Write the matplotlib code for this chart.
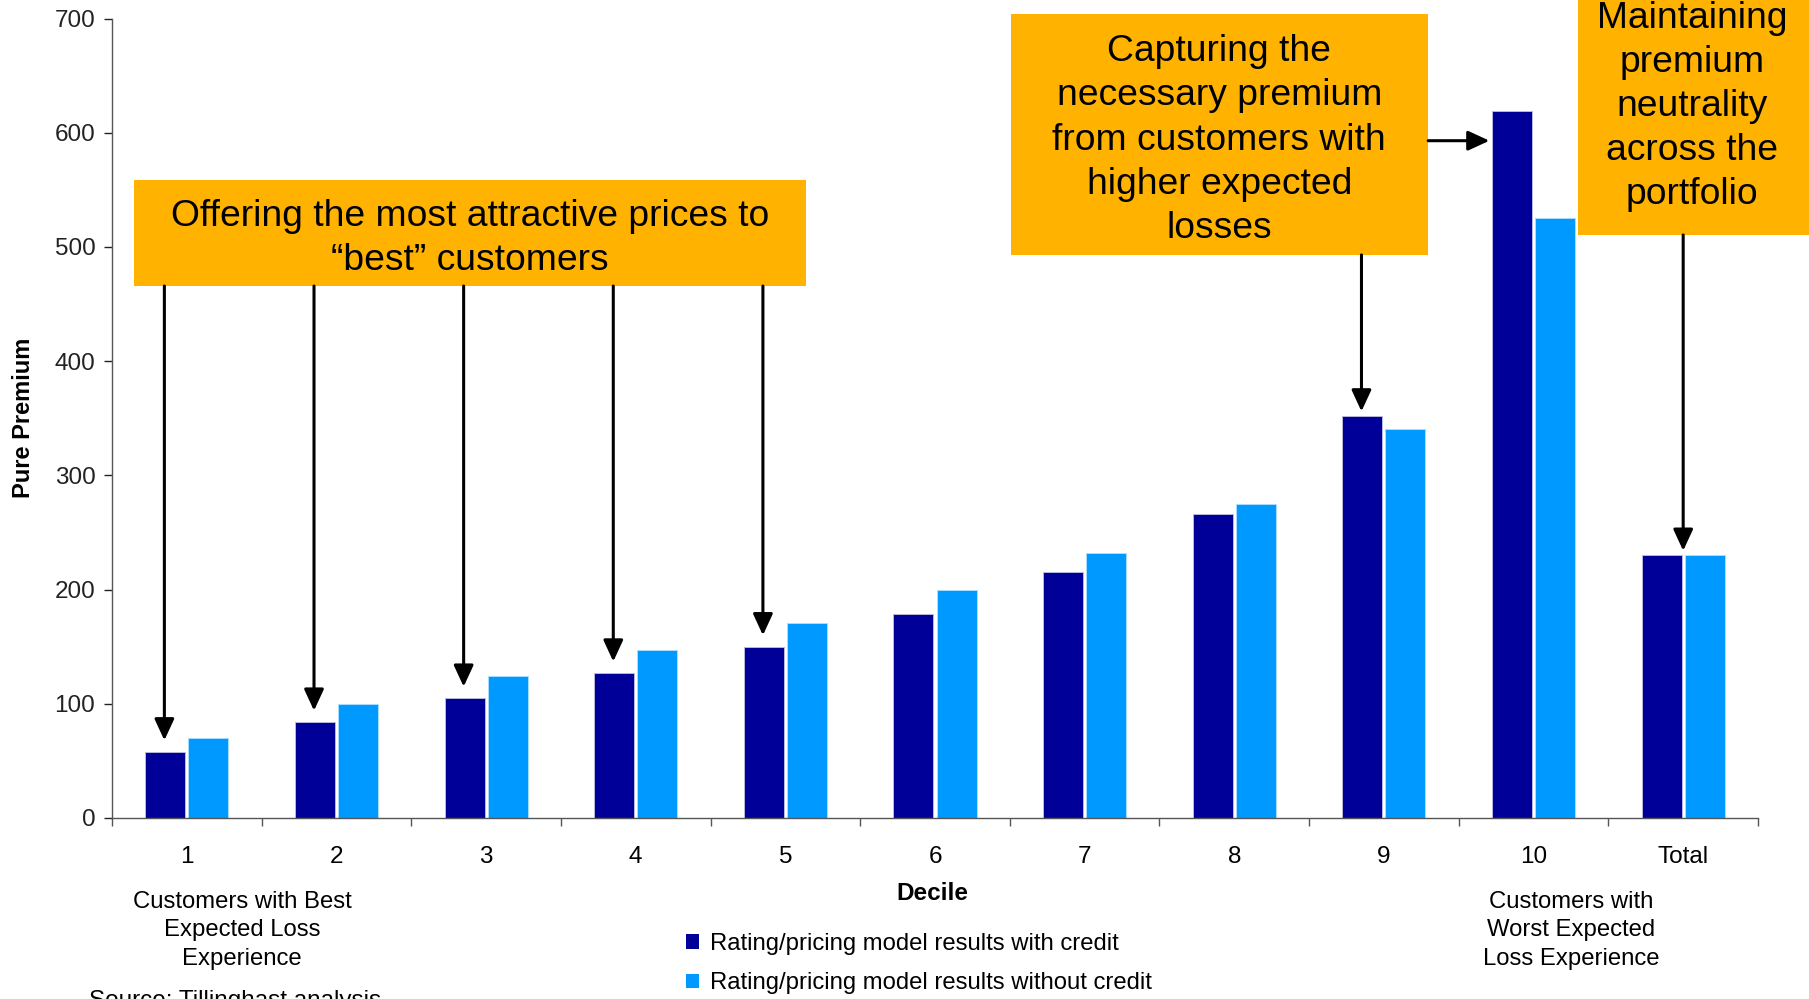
import matplotlib
matplotlib.use("Agg")
import matplotlib.pyplot as plt
from matplotlib.patches import Rectangle, Patch
import numpy as np

plt.rcParams['font.family'] = ['Liberation Sans', 'DejaVu Sans']

categories = ["1", "2", "3", "4", "5", "6", "7", "8", "9", "10", "Total"]
with_credit = [58, 84, 105, 127, 150, 179, 215, 266, 352, 619, 230]
without_credit = [70, 100, 124, 147, 171, 200, 232, 275, 341, 525, 230]
series_labels = ["Rating/pricing model results with credit",
                 "Rating/pricing model results without credit"]
y_ticks = [0, 100, 200, 300, 400, 500, 600, 700]

box1_text = "Offering the most attractive prices to\n\u201cbest\u201d customers"
box2_text = "Capturing the\nnecessary premium\nfrom customers with\nhigher expected\nlosses"
box3_text = "Maintaining\npremium\nneutrality\nacross the\nportfolio"
best_text = "Customers with Best\nExpected Loss\nExperience"
worst_text = "Customers with\nWorst Expected\nLoss Experience"
source_text = "Source: Tillinghast analysis"

DARK = "#000099"
LIGHT = "#0099FF"
ORANGE = "#FFB300"

W, H = 1809, 999
fig = plt.figure(figsize=(W / 100, H / 100), dpi=100)
ax = fig.add_axes([112 / W, 1 - 818 / H, (1758 - 112) / W, (818 - 18.5) / H])

x = np.arange(len(categories))
bw = 0.267
off = 0.144
ax.bar(x - off, with_credit, width=bw, color=DARK, edgecolor="#B8B8E0", linewidth=0.7, zorder=2)
ax.bar(x + off, without_credit, width=bw, color=LIGHT, edgecolor="#A8DDFF", linewidth=0.7, zorder=2)

ax.set_xlim(-0.5, len(categories) - 0.5)
ax.set_ylim(0, 700)
ax.set_yticks(y_ticks)
ax.tick_params(axis='y', labelsize=17.5, length=6, width=1, direction='out', colors='#222222', pad=6)
ax.set_xticks(x)
ax.set_xticklabels(categories)
ax.tick_params(axis='x', which='major', length=0, labelsize=17.5, pad=20)
ax.set_xticks(np.arange(-0.5, len(categories)), minor=True)
ax.tick_params(axis='x', which='minor', length=6, width=1, direction='out', color='#555555')
for s in ['top', 'right']:
    ax.spines[s].set_visible(False)
for s in ['left', 'bottom']:
    ax.spines[s].set_color('#555555')
    ax.spines[s].set_linewidth(1)

fig.text(24 / W, 1 - 418 / H, "Pure Premium", rotation=90, fontsize=17, fontweight='bold',
         ha='center', va='center')
fig.text(932 / W, 1 - 894 / H, "Decile", fontsize=17.5, fontweight='bold', ha='center', va='center')
fig.text(242 / W, 1 - 891 / H, best_text, fontsize=17.2, ha='center', va='top', linespacing=1.38)
fig.text(1571 / W, 1 - 891 / H, worst_text, fontsize=17.2, ha='center', va='top', linespacing=1.38)
fig.text(89 / W, 1 - 990 / H, source_text, fontsize=17.5, ha='left', va='top')

# annotation boxes
def box(x0, x1, y0, y1):
    r = Rectangle((x0, y0), x1 - x0, y1 - y0, facecolor=ORANGE, edgecolor='none',
                  clip_on=False, zorder=3)
    ax.add_patch(r)

BOXFS = 26.8
box(-0.355, 4.14, 465.8, 558.6)
ax.text(1.893, 507.5, box1_text, fontsize=BOXFS, ha='center', va='center', zorder=4,
        linespacing=1.31, clip_on=False)
box(5.505, 8.296, 493, 704)
ax.text(6.90, 593.5, box2_text, fontsize=BOXFS, ha='center', va='center', zorder=4,
        linespacing=1.343, clip_on=False)
box(9.30, 11.2, 510.5, 780)
ax.text(10.06, 623, box3_text, fontsize=BOXFS, ha='center', va='center', zorder=4,
        linespacing=1.335, clip_on=False)

ap = dict(arrowstyle='-|>,head_width=0.3,head_length=0.65', lw=2.2, color='black',
          mutation_scale=20, shrinkA=0, shrinkB=0)
for i in range(5):
    xa = i - 0.15
    ax.annotate("", xy=(xa, with_credit[i] + 10), xytext=(xa, 465.8),
                arrowprops=ap, zorder=5, annotation_clip=False)
ax.annotate("", xy=(8 - 0.15, with_credit[8] + 4), xytext=(8 - 0.15, 493),
            arrowprops=ap, zorder=5, annotation_clip=False)
ax.annotate("", xy=(8.705, 593), xytext=(8.296, 593),
            arrowprops=ap, zorder=5, annotation_clip=False)
ax.annotate("", xy=(10.0, with_credit[10] + 4), xytext=(10.0, 510.5),
            arrowprops=ap, zorder=5, annotation_clip=False)

handles = [Patch(facecolor=DARK), Patch(facecolor=LIGHT)]
fig.legend(handles, series_labels, loc='upper left', bbox_to_anchor=(686 / W, 1 - 933 / H),
           frameon=False, fontsize=17.2, handlelength=0.55, handleheight=0.55,
           handletextpad=0.45, labelspacing=0.72, borderpad=0, borderaxespad=0)

fig.savefig("out.png", dpi=100)
